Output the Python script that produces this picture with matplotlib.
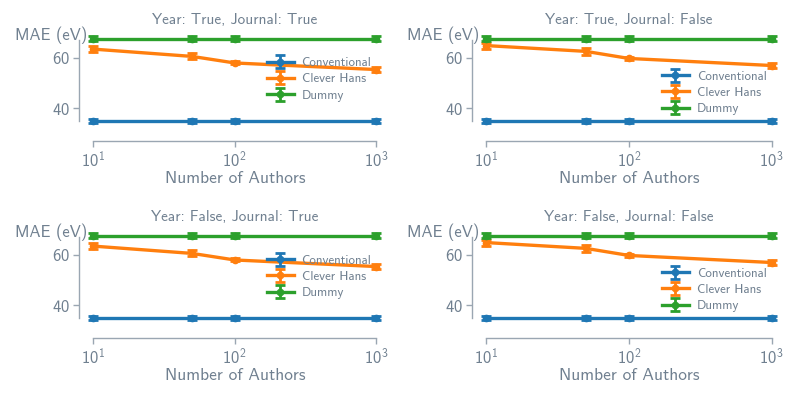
import numpy as np
import matplotlib
matplotlib.use("Agg")
import matplotlib.pyplot as plt

plt.rcParams['font.family'] = ['cmss10', 'DejaVu Sans']
plt.rcParams['mathtext.fontset'] = 'custom'
plt.rcParams['mathtext.rm'] = 'cmss10'
plt.rcParams['axes.formatter.use_mathtext'] = True

GREY = '#708090'
SPINE = '#9aa6b2'

authors = [10, 50, 100, 1000]
labels = ['Conventional', 'Clever Hans', 'Dummy']

titles = ['Year: True, Journal: True', 'Year: True, Journal: False',
          'Year: False, Journal: True', 'Year: False, Journal: False']

conv_mean = [35.1, 35.1, 35.1, 35.1]
conv_err = [0.8, 0.8, 0.8, 0.8]
dummy_mean = [67.6, 67.6, 67.6, 67.6]
dummy_err = [0.9, 0.9, 0.9, 0.9]

# clever hans depends on journal flag
hans_journal = [63.4, 60.5, 57.9, 55.3]
hans_journal_err = [1.2, 1.2, 0.6, 0.9]
hans_nojournal = [64.8, 62.5, 59.7, 56.9]
hans_nojournal_err = [1.2, 1.3, 0.7, 0.9]

hans_means = [hans_journal, hans_nojournal, hans_journal, hans_nojournal]
hans_errs = [hans_journal_err, hans_nojournal_err, hans_journal_err, hans_nojournal_err]
legend_y = [0.5, 0.358, 0.495, 0.358]

fig = plt.figure(figsize=(7.93, 3.94), dpi=100)
positions = [
    [0.0996, 0.678, 0.393, 0.241],
    [0.595, 0.678, 0.396, 0.241],
    [0.0996, 0.178, 0.393, 0.241],
    [0.595, 0.178, 0.396, 0.241],
]

colors = ['#1f77b4', '#ff7f0e', '#2ca02c']

for i in range(4):
    ax = fig.add_axes(positions[i])
    series = [(conv_mean, conv_err), (hans_means[i], hans_errs[i]), (dummy_mean, dummy_err)]
    for (m, e), lab, c in zip(series, labels, colors):
        ax.errorbar(authors, m, yerr=e, color=c, label=lab, lw=2.4,
                    marker='o', ms=4.5, capsize=3.5, capthick=2, elinewidth=2)
    ax.set_xscale('log')
    ax.set_xticks([10, 100, 1000])
    ax.minorticks_off()
    ax.set_yticks([40, 60])

    for s in ['top', 'right']:
        ax.spines[s].set_visible(False)
    ax.spines['bottom'].set_position(('outward', 10))
    ax.spines['bottom'].set_bounds(10, 1000)
    allm = conv_mean + dummy_mean + hans_means[i]
    ax.spines['left'].set_bounds(min(allm), max(allm) - 0.6)
    for s in ['left', 'bottom']:
        ax.spines[s].set_color(SPINE)
        ax.spines[s].set_linewidth(1.0)
    ax.tick_params(colors=SPINE, labelcolor=GREY, labelsize=12, length=4, width=1, pad=2.5)

    ax.set_title(titles[i], color=GREY, fontsize=11, pad=6)
    ax.set_xlabel('Number of Authors', color=GREY, fontsize=12.5, labelpad=1)
    ax.set_ylabel('MAE (eV)', color=GREY, fontsize=12, rotation=0, ha='right', va='center')
    ax.yaxis.set_label_coords(0.025, 0.97)

    leg = ax.legend(loc='center right', bbox_to_anchor=(0.955, legend_y[i]),
                    borderaxespad=0, frameon=False, fontsize=9.3, handlelength=2.1,
                    labelspacing=0.33, handletextpad=0.6)
    for t in leg.get_texts():
        t.set_color(GREY)

fig.savefig('out.png', dpi=100)
